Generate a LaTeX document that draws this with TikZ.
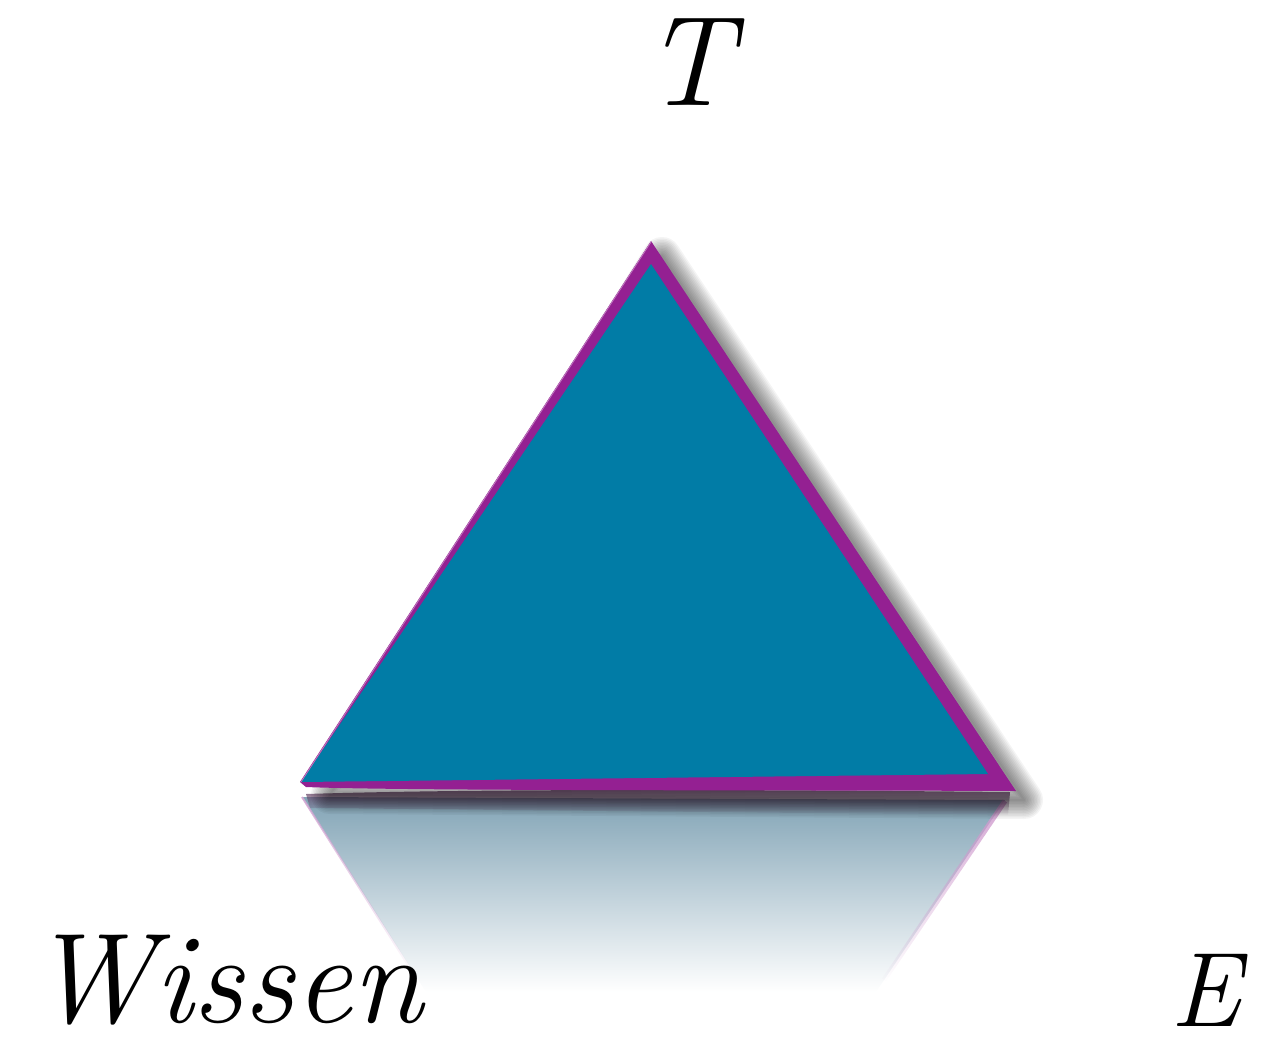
\documentclass[tikz,border=0pt]{standalone}
\usetikzlibrary{fadings}
\definecolor{tealfill}{RGB}{1,124,166}
\definecolor{purp}{RGB}{148,32,146}
\definecolor{refltop}{RGB}{130,164,182}
\definecolor{reflmid}{RGB}{210,224,232}
\tikzfading[name=fadedown, top color=transparent!10, bottom color=transparent!100]
\tikzset{
  label/.style={font=\itshape, text=black, inner sep=0pt},
  shadowline/.style={draw=black, draw opacity=0.045, line join=round},
}
\begin{document}
\begin{tikzpicture}[x=1pt,y=-1pt]
\useasboundingbox (0,0) rectangle (1263,1046);
% reflection
\shade[top color=refltop, middle color=reflmid, bottom color=white]
  (302,797) -- (1005,800) -- (876,992) -- (426,992) -- cycle;
\draw[purp!45, line width=5, path fading=fadedown] (1005,801) -- (884,980);
\draw[purp!40, line width=2, path fading=fadedown] (302,797) -- (416,978);
\fill[black!60!purp!80, path fading=fadedown] (306,794) .. controls (500,788) and (800,790) .. (1010,792) -- (1008,815) -- (310,808) -- cycle;
% blurred shadow
\foreach \w in {2,5,...,40} {
  \draw[shadowline, line width=\w] (662,256) -- (1024,800) -- (330,795) -- cycle;
}
% triangle
\fill[purp] (651,241) -- (1016,791) .. controls (800,790) and (400,791) .. (306,787) -- (300,782) -- cycle;
\fill[tealfill] (651,264) -- (988,774) -- (301,782) -- cycle;
\draw[purp!60, line width=0.8] (651,242) -- (301,782);
% labels
\node[label, font=\itshape\fontsize{128}{140}\selectfont] (top) at (688,62) {T};
\node[label, font=\itshape\fontsize{128}{140}\selectfont] (wissen) at (226,980) {Wissen};
\node[label, font=\itshape\fontsize{106}{120}\selectfont] (e) at (1206,990) {E};
\end{tikzpicture}
\end{document}
